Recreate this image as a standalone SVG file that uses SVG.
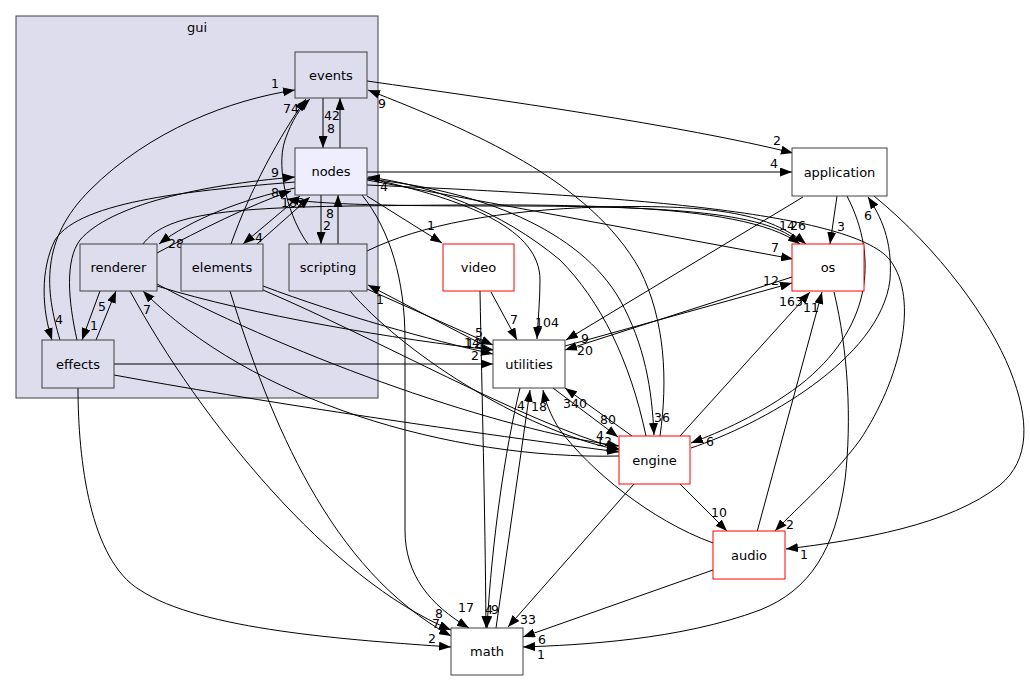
<svg xmlns="http://www.w3.org/2000/svg" width="1030" height="681" viewBox="0 0 1030 681">
<style>
.cl{fill:#ddddee;stroke:#404040;stroke-width:1}
.in{fill:#ddddee;stroke:#404040;stroke-width:1}
.hi{fill:#eeeeff;stroke:#404040;stroke-width:1}
.ext{fill:#ffffff;stroke:#404040;stroke-width:1}
.red{fill:#ffffff;stroke:#ff0000;stroke-width:1}
.nt{font-family:"DejaVu Sans",sans-serif;font-size:13px;text-anchor:middle;fill:#000}
.e path{fill:none;stroke:#000;stroke-width:1;marker-end:url(#ah)}
.e text{font-family:"DejaVu Sans",sans-serif;font-size:12.5px;text-anchor:middle;fill:#000}
</style>
<defs>
<marker id="ah" markerUnits="userSpaceOnUse" markerWidth="12" markerHeight="9" refX="12" refY="4.5" orient="auto">
<path d="M0,0 L12,4.5 L0,9 z" fill="#000"/>
</marker>
</defs>
<rect width="1030" height="681" fill="#fff"/>
<g id="cluster_gui">
<rect class="cl" x="16" y="16" width="362" height="382"/>
<text class="nt" x="197" y="32">gui</text>
</g>
<g id="connectors" class="e">
<path d="M323,98 L323,148"/><text x="331" y="133">8</text>
<path d="M340,148 L340,98"/><text x="332" y="120">42</text>
<path d="M60,340 C45,290 40,240 90,190 C150,130 230,100 295,90"/><text x="275" y="87.5">1</text>
<path d="M231,244 C250,190 280,135 306,99"/><text x="287" y="112.5">7</text>
<path d="M308,244 C290,220 275,170 285,140 C292,120 300,108 310,99"/><text x="295" y="112.5">4</text>
<path d="M295,182 C200,190 80,200 55,240 C40,270 42,310 52,340"/><text x="59" y="323.5">4</text>
<path d="M77,340 C68,300 65,260 80,240 C110,205 200,185 295,177"/><text x="275" y="176.5">9</text>
<path d="M157,253 C200,230 250,205 291,191"/><text x="275" y="196.5">8</text>
<path d="M295,188 C240,200 190,220 159,244"/><text x="176" y="247.5">28</text>
<path d="M300,196 L243,244"/><text x="259" y="242">4</text>
<path d="M257,244 L310,197"/><text x="301" y="207">2</text>
<path d="M800,244 C770,210 650,206 500,206 C380,206 320,204 287,199"/><text x="289" y="207">18</text>
<path d="M321,195 L321,244"/><text x="327" y="229.5">2</text>
<path d="M338,244 L338,195"/><text x="330" y="217.5">8</text>
<path d="M100,291 L82,340"/><text x="94" y="329.5">1</text>
<path d="M96,340 L116,291"/><text x="102" y="310.5">5</text>
<path d="M143,244 C165,215 220,208 350,206 C550,204 740,200 800,244"/><text x="787" y="229.5">14</text>
<path d="M367,251 C420,225 500,210 600,207 C720,204 770,215 806,244"/><text x="798" y="229.5">26</text>
<path d="M114,364 L493,364"/><text x="475" y="359.5">2</text>
<path d="M157,286 C250,315 400,340 493,350"/><text x="472" y="347">14</text>
<path d="M263,286 C340,315 430,340 493,354"/><text x="474" y="348">12</text>
<path d="M367,289 L493,345"/><text x="479" y="336.5">5</text>
<path d="M493,350 L368,285"/><text x="380" y="303.5">1</text>
<path d="M491,292 L517,340"/><text x="514" y="323.5">7</text>
<path d="M367,178 C470,200 540,230 540,280 C540,300 538,320 537,339"/><text x="547" y="326.5">104</text>
<path d="M803,197 L566,340"/><text x="585" y="342.5">9</text>
<path d="M792,277 L565,350"/><text x="585" y="354.5">20</text>
<path d="M565,346 L792,283"/><text x="771" y="284.5">12</text>
<path d="M632,436 L565,388"/><text x="575" y="407.5">340</text>
<path d="M553,388 L618,437"/><text x="608" y="423.5">80</text>
<path d="M496,628 L530,390"/><text x="521" y="409.5">4</text>
<path d="M713,543 C650,520 590,470 560,430 C550,415 545,400 543,390"/><text x="539" y="410.5">18</text>
<path d="M520,388 C505,450 492,540 487,628"/><text x="495" y="613.5">9</text>
<path d="M480,291 C482,400 485,500 486,628"/><text x="489" y="613.5">4</text>
<path d="M362,195 C390,230 405,280 405,340 L405,530 C405,575 430,605 469,628"/><text x="466" y="611.5">17</text>
<path d="M130,291 C200,420 330,580 451,630"/><text x="439" y="617.5">8</text>
<path d="M230,291 C270,420 330,570 451,636"/><text x="436" y="627.5">7</text>
<path d="M78,388 C78,460 90,560 140,590 C200,630 350,640 451,647"/><text x="432" y="642.5">2</text>
<path d="M634,484 L508,627"/><text x="528" y="623.5">33</text>
<path d="M713,570 L523,637"/><text x="542" y="643.5">6</text>
<path d="M834,292 C848,350 852,420 845,480 C835,550 810,590 760,610 C680,640 580,645 523,647"/><text x="541" y="658.5">1</text>
<path d="M367,179 C480,190 580,230 620,300 C645,345 652,390 654,435"/><text x="662" y="421.5">36</text>
<path d="M646,436 C630,360 600,300 560,260 C500,210 430,185 368,177"/><text x="384" y="190.5">4</text>
<path d="M660,436 C668,380 665,320 640,270 C590,180 470,130 368,90"/><text x="382" y="107.5">9</text>
<path d="M157,284 C300,360 500,430 619,446"/><text x="604" y="446">12</text>
<path d="M263,290 C380,340 520,420 619,449"/><text x="600" y="440">4</text>
<path d="M114,375 C250,400 450,430 619,452"/>
<path d="M350,291 C400,350 520,430 619,450"/>
<path d="M619,456 C450,460 250,400 143,291"/><text x="147" y="313.5">7</text>
<path d="M847,196 C880,260 870,330 800,385 C760,415 720,432 691,443"/><text x="710" y="445.5">6</text>
<path d="M691,448 C760,425 880,360 890,280 C893,240 880,215 868,197"/><text x="868" y="219.5">6</text>
<path d="M680,436 L810,292"/><text x="791" y="305.5">163</text>
<path d="M680,484 L727,531"/><text x="719" y="516.5">10</text>
<path d="M757,532 L822,292"/><text x="811" y="312">11</text>
<path d="M837,196 L830,244"/><text x="841" y="230.5">3</text>
<path d="M367,180 L793,259"/><text x="775" y="252">7</text>
<path d="M367,185 C600,195 850,210 890,260 C920,300 900,380 860,440 C830,480 800,505 775,531"/><text x="790" y="528.5">2</text>
<path d="M874,196 C940,250 990,320 1010,370 C1030,420 1030,460 1000,485 C950,525 860,540 786,549"/><text x="804" y="558.5">1</text>
<path d="M367,196 L442,243"/><text x="431" y="230">1</text>
<path d="M367,81 C500,100 680,125 793,153"/><text x="777" y="144.5">2</text>
<path d="M367,172 L792,172"/><text x="774" y="167.5">4</text>
</g>
<g id="node_events"><rect class="in" x="295" y="52" width="72" height="46"/><text class="nt" x="331" y="79.5">events</text></g>
<g id="node_nodes"><rect class="hi" x="295" y="148" width="72" height="47"/><text class="nt" x="331" y="176">nodes</text></g>
<g id="node_renderer"><rect class="in" x="80" y="244" width="77" height="47"/><text class="nt" x="118.5" y="272">renderer</text></g>
<g id="node_elements"><rect class="in" x="181" y="244" width="82" height="47"/><text class="nt" x="222" y="272">elements</text></g>
<g id="node_scripting"><rect class="in" x="289" y="244" width="78" height="47"/><text class="nt" x="328" y="272">scripting</text></g>
<g id="node_effects"><rect class="in" x="42" y="340" width="72" height="48"/><text class="nt" x="78" y="368.5">effects</text></g>
<g id="node_application"><rect class="ext" x="792" y="148" width="95" height="48"/><text class="nt" x="839.5" y="176.5">application</text></g>
<g id="node_os"><rect class="red" x="792" y="244" width="72" height="47"/><text class="nt" x="828" y="272">os</text></g>
<g id="node_video"><rect class="red" x="443" y="244" width="71" height="47"/><text class="nt" x="478.5" y="272">video</text></g>
<g id="node_utilities"><rect class="ext" x="493" y="340" width="72" height="48"/><text class="nt" x="529" y="368.5">utilities</text></g>
<g id="node_engine"><rect class="red" x="619" y="436" width="71" height="48"/><text class="nt" x="654.5" y="464.5">engine</text></g>
<g id="node_audio"><rect class="red" x="713" y="531" width="72" height="48"/><text class="nt" x="749" y="559.5">audio</text></g>
<g id="node_math"><rect class="ext" x="451" y="628" width="72" height="47"/><text class="nt" x="487" y="656">math</text></g>
</svg>
